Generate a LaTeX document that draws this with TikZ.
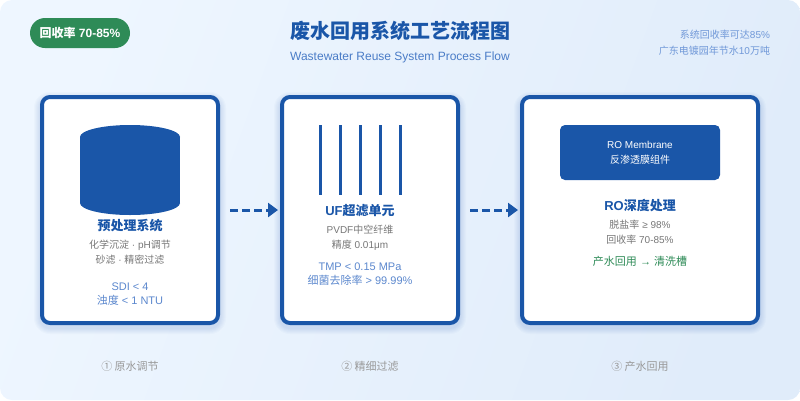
\documentclass[tikz,border=0pt]{standalone}
\usepackage{fontspec}
\usetikzlibrary{arrows.meta}
\setmainfont{Liberation Sans}
\newfontfamily\cjk{Noto Sans CJK SC}
\newcommand{\zh}[1]{{\cjk #1}}
\definecolor{mainblue}{HTML}{1A56A8}
\definecolor{subblue}{HTML}{4A7CC7}
\definecolor{specblue}{HTML}{5C88CE}
\definecolor{noteblue}{HTML}{7098D8}
\definecolor{midgrey}{HTML}{777777}
\definecolor{lightgrey}{HTML}{999999}
\definecolor{leafgreen}{HTML}{2E8B57}
\definecolor{bgstart}{HTML}{EEF6FF}
\definecolor{bgend}{HTML}{E0ECFA}
\tikzset{
  txt/.style={anchor=base,inner sep=0pt,outer sep=0pt,align=center},
  cardbox/.style={draw=mainblue,line width=4pt,fill=white,rounded corners=8pt,minimum width=176pt,minimum height=226pt,inner sep=0pt},
  cardtitle/.style={txt,text=mainblue,font=\fontsize{13}{15}\selectfont\bfseries},
  carddetail/.style={txt,text=midgrey,font=\fontsize{10}{12}\selectfont},
  cardspec/.style={txt,text=specblue,font=\fontsize{11}{13}\selectfont},
  steplabel/.style={txt,text=lightgrey,font=\fontsize{11}{13}\selectfont},
  flowarrow/.style={draw=mainblue,line width=3pt,dash pattern=on 8pt off 4pt,-{Triangle[length=10pt,width=14pt,sep=0pt]},shorten <=10pt,shorten >=2pt},
  fibre/.style={draw=mainblue,line width=3pt},
}
\begin{document}
\begin{tikzpicture}[x=1pt,y=-1pt]
\useasboundingbox (0,0) rectangle (800,400);
\shade[rounded corners=12pt,top color=bgstart,bottom color=bgend,shading angle=70] (0,0) rectangle (800,400);
% soft shadows
\foreach \l/\r in {40/220,280/460,520/760}{
  \foreach \g in {1,...,6}{
    \fill[mainblue,opacity=0.022,rounded corners=10pt+\g pt] (\l-\g,95+3-\g) rectangle (\r+\g,325+3+\g);
  }
}
% cards
\node[cardbox] (card1) at (130,210) {};
\node[cardbox] (card2) at (370,210) {};
\node[cardbox,minimum width=236pt] (card3) at (640,210) {};
% connectors
\draw[flowarrow] (card1.east) -- (card2.west);
\draw[flowarrow] (card2.east) -- (card3.west);
% badge
\node[fill=leafgreen,rounded corners=15pt,minimum width=100pt,minimum height=30pt,inner sep=0pt,text=white,font=\fontsize{12}{14}\selectfont\bfseries] (badge) at (80,33) {\zh{回收率} 70-85\%};
% heading
\node[txt,text=mainblue,font=\fontsize{20}{24}\selectfont\bfseries] (title) at (400,38) {\zh{废水回用系统工艺流程图}};
\node[txt,text=subblue,font=\fontsize{12}{14}\selectfont] (subtitle) at (400,60) {Wastewater Reuse System Process Flow};
\node[txt,anchor=base east,text=noteblue,font=\fontsize{10}{12}\selectfont] (note1) at (770,38) {\zh{系统回收率可达}85\%};
\node[txt,anchor=base east,text=noteblue,font=\fontsize{10}{12}\selectfont] (note2) at (770,54) {\zh{广东电镀园年节水}10\zh{万吨}};
% card 1
\fill[mainblue] (80,137) rectangle (180,203);
\fill[mainblue] (130,137) ellipse [x radius=50,y radius=12];
\fill[mainblue] (130,203) ellipse [x radius=50,y radius=12];
\node[cardtitle] (t1) at (130,230.5) {\zh{预处理系统}};
\node[carddetail] (d1a) at (130,248) {\zh{化学沉淀} · pH\zh{调节}};
\node[carddetail] (d1b) at (130,263) {\zh{砂滤} · \zh{精密过滤}};
\node[cardspec] (s1a) at (130,290) {SDI < 4};
\node[cardspec] (s1b) at (130,304) {\zh{浊度} < 1 NTU};
% card 2
\foreach \x in {320,340,360,380,400}{\draw[fibre] (\x,125) -- (\x,195);}
\node[cardtitle] (t2) at (360,215.5) {UF\zh{超滤单元}};
\node[carddetail] (d2a) at (360,233) {PVDF\zh{中空纤维}};
\node[carddetail] (d2b) at (360,248) {\zh{精度} 0.01μm};
\node[cardspec] (s2a) at (360,270) {TMP < 0.15 MPa};
\node[cardspec] (s2b) at (360,284) {\zh{细菌去除率} > 99.99\%};
% card 3
\node[fill=mainblue,rounded corners=5pt,minimum width=160pt,minimum height=55pt,inner sep=0pt] (robox) at (640,152.5) {};
\node[txt,text=white,font=\fontsize{10}{12}\selectfont] (ro1) at (640,148) {RO Membrane};
\node[txt,text=white,font=\fontsize{10}{12}\selectfont] (ro2) at (640,163) {\zh{反渗透膜组件}};
\node[cardtitle] (t3) at (640,210) {RO\zh{深度处理}};
\node[carddetail] (d3a) at (640,228) {\zh{脱盐率} ≥ 98\%};
\node[carddetail] (d3b) at (640,243) {\zh{回收率} 70-85\%};
\node[cardspec,text=leafgreen] (s3) at (640,265) {\zh{产水回用} → \zh{清洗槽}};
% step labels
\node[steplabel] (l1) at (130,370) {\zh{① 原水调节}};
\node[steplabel] (l2) at (370,370) {\zh{② 精细过滤}};
\node[steplabel] (l3) at (640,370) {\zh{③ 产水回用}};
\end{tikzpicture}
\end{document}
